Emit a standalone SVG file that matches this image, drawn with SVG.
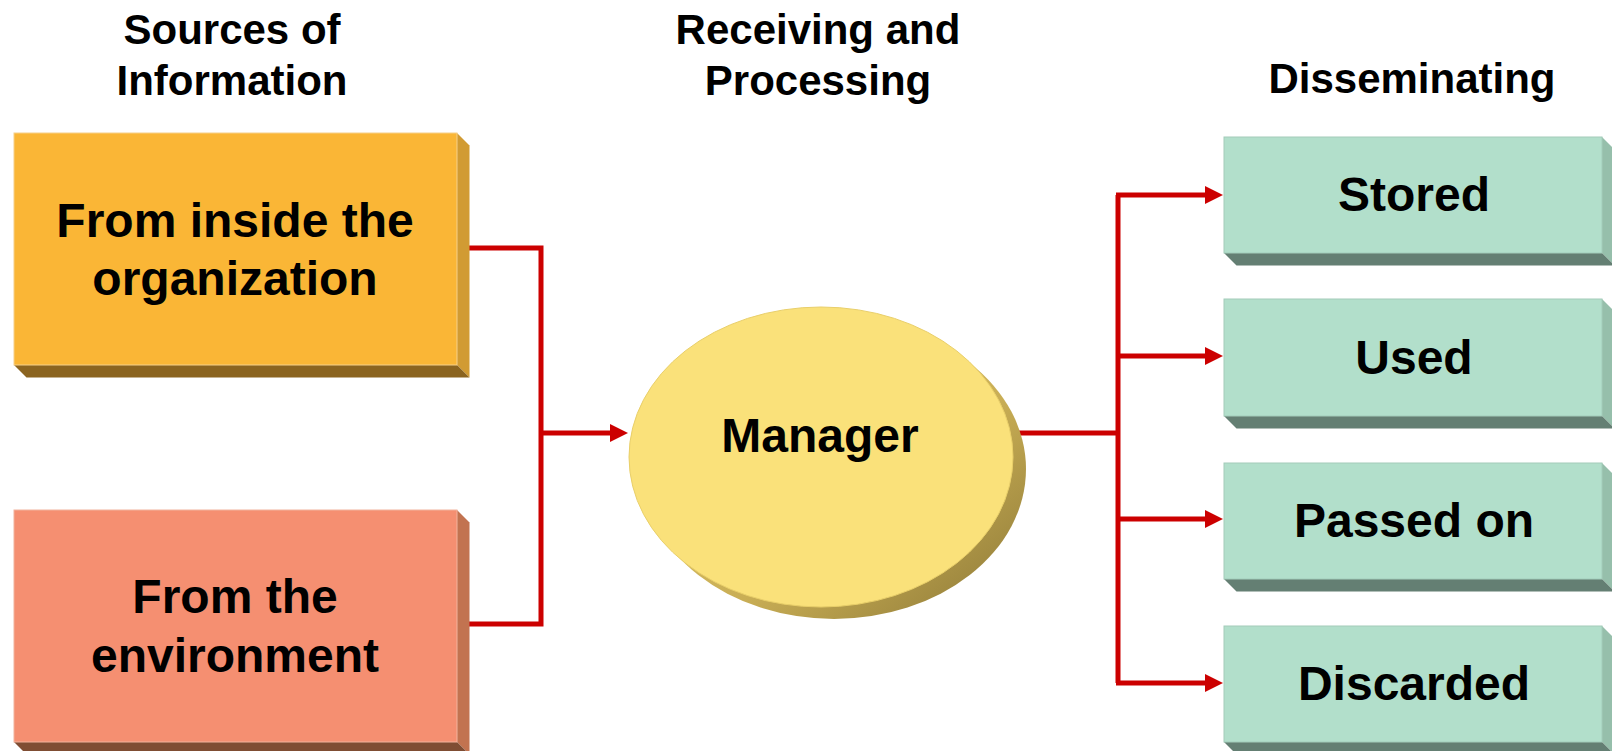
<svg xmlns="http://www.w3.org/2000/svg" width="1612" height="751" viewBox="0 0 1612 751">
  <defs>
    <style>
      text { font-family: "Liberation Sans", Arial, sans-serif; font-weight: bold; fill: #000; text-anchor: middle; }
      .title { font-size: 42px; }
      .label { font-size: 48px; }
      .conn { fill: none; stroke: #CC0000; stroke-width: 5; stroke-linejoin: miter; }
      .org-front { fill: #FAB636; stroke: #F6D08A; stroke-width: 1; }
      .org-side { fill: #D19B33; }
      .org-bottom { fill: #8B6420; }
      .env-front { fill: #F58F71; stroke: #F2B39E; stroke-width: 1; }
      .env-side { fill: #C27350; }
      .env-bottom { fill: #7F4D33; }
      .grn-front { fill: #B2DFCB; stroke: #A3CCBA; stroke-width: 1; }
      .grn-side { fill: #96BFAB; }
      .grn-bottom { fill: #647F73; }
    </style>
    <marker id="arrow" viewBox="0 0 18 18" refX="1" refY="9" markerWidth="18" markerHeight="18" markerUnits="userSpaceOnUse" orient="auto">
      <path d="M0,0 L18,9 L0,18 z" fill="#CC0000"/>
    </marker>
    <linearGradient id="shadowGrad" x1="0" y1="0" x2="1" y2="1">
      <stop offset="0" stop-color="#E8CF6E"/>
      <stop offset="0.6" stop-color="#C9AE55"/>
      <stop offset="1" stop-color="#8A7635"/>
    </linearGradient>
  </defs>

  <rect width="1612" height="751" fill="#FFFFFF"/>

  <g id="titles">
    <text class="title" x="232" y="44">Sources of</text>
    <text class="title" x="232" y="95">Information</text>
    <text class="title" x="818" y="44">Receiving and</text>
    <text class="title" x="818" y="95">Processing</text>
    <text class="title" x="1412" y="93">Disseminating</text>
  </g>

  <g id="connectors">
    <path class="conn" d="M455,248 H541 V624 H455"/>
    <path class="conn" d="M541,433 H611" marker-end="url(#arrow)"/>
    <path class="conn" d="M1013,433 H1118"/>
    <path class="conn" d="M1118,195 V683"/>
    <path class="conn" d="M1116,195 H1206" marker-end="url(#arrow)"/>
    <path class="conn" d="M1118,356 H1206" marker-end="url(#arrow)"/>
    <path class="conn" d="M1118,519 H1206" marker-end="url(#arrow)"/>
    <path class="conn" d="M1116,683 H1206" marker-end="url(#arrow)"/>
  </g>

  <g id="node-inside">
    <polygon class="org-side" points="457,133 469.5,145.5 469.5,377.5 457,365"/>
    <polygon class="org-bottom" points="14,365 457,365 469.5,377.5 26.5,377.5"/>
    <rect class="org-front" x="14" y="133" width="443" height="232"/>
    <text class="label" x="235" y="237">From inside the</text>
    <text class="label" x="235" y="295">organization</text>
  </g>

  <g id="node-environment">
    <polygon class="env-side" points="457,510 469.5,522.5 469.5,754.5 457,742"/>
    <polygon class="env-bottom" points="14,742 457,742 469.5,754.5 26.5,754.5"/>
    <rect class="env-front" x="14" y="510" width="443" height="232"/>
    <text class="label" x="235" y="613">From the</text>
    <text class="label" x="235" y="672">environment</text>
  </g>

  <g id="node-manager">
    <ellipse cx="834" cy="469" rx="192" ry="150" fill="url(#shadowGrad)"/>
    <ellipse cx="821" cy="457" rx="192" ry="150" fill="#FAE17A" stroke="#E9CF6A" stroke-width="1"/>
    <text class="label" x="820" y="452">Manager</text>
  </g>

  <g id="node-stored">
    <polygon class="grn-side" points="1602,137 1614.5,149.5 1614.5,265.5 1602,253"/>
    <polygon class="grn-bottom" points="1224,253 1602,253 1614.5,265.5 1236.5,265.5"/>
    <rect class="grn-front" x="1224" y="137" width="378" height="116"/>
    <text class="label" x="1414" y="211">Stored</text>
  </g>

  <g id="node-used">
    <polygon class="grn-side" points="1602,299 1614.5,311.5 1614.5,428.5 1602,416"/>
    <polygon class="grn-bottom" points="1224,416 1602,416 1614.5,428.5 1236.5,428.5"/>
    <rect class="grn-front" x="1224" y="299" width="378" height="117"/>
    <text class="label" x="1414" y="374">Used</text>
  </g>

  <g id="node-passed">
    <polygon class="grn-side" points="1602,463 1614.5,475.5 1614.5,591.5 1602,579"/>
    <polygon class="grn-bottom" points="1224,579 1602,579 1614.5,591.5 1236.5,591.5"/>
    <rect class="grn-front" x="1224" y="463" width="378" height="116"/>
    <text class="label" x="1414" y="537">Passed on</text>
  </g>

  <g id="node-discarded">
    <polygon class="grn-side" points="1602,626 1614.5,638.5 1614.5,754.5 1602,742"/>
    <polygon class="grn-bottom" points="1224,742 1602,742 1614.5,754.5 1236.5,754.5"/>
    <rect class="grn-front" x="1224" y="626" width="378" height="116"/>
    <text class="label" x="1414" y="700">Discarded</text>
  </g>
</svg>
